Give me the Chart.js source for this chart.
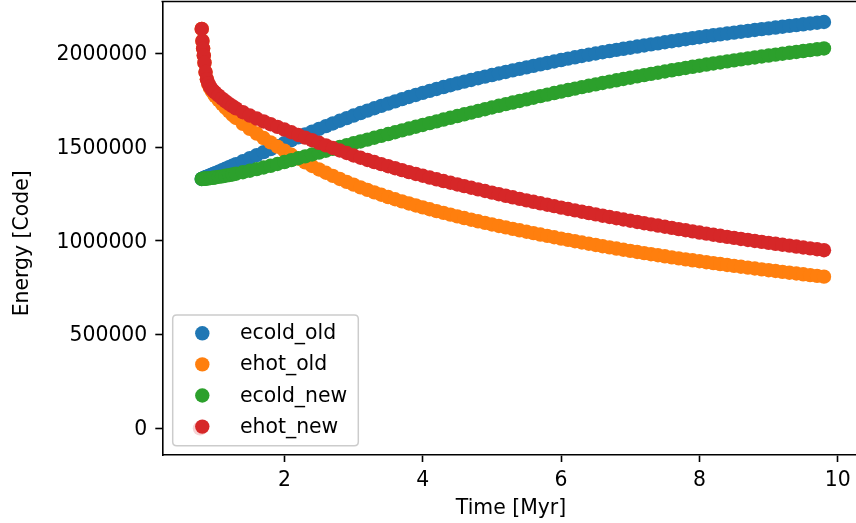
<!DOCTYPE html>
<html><head><meta charset="utf-8">
<script src="https://cdn.jsdelivr.net/npm/chart.js@4.4.0/dist/chart.umd.min.js"></script>
<style>html,body{margin:0;padding:0;background:#fff;overflow:hidden}canvas{display:block}</style>
</head><body>
<canvas id="c" width="856" height="523"></canvas>
<script>
// Time [Myr]
const time = [0.78, 0.805, 0.815, 0.825, 0.835, 0.845, 0.86, 0.88, 0.9, 0.925, 0.95, 0.975, 1.0, 1.05, 1.1, 1.15, 1.2, 1.25, 1.3, 1.4, 1.5,
  1.6, 1.7, 1.8, 1.9, 2.0,
  2.1, 2.2, 2.3, 2.4, 2.5, 2.6, 2.7, 2.8, 2.9, 3.0,
  3.1, 3.2, 3.3, 3.4, 3.5, 3.6, 3.7, 3.8, 3.9, 4.0,
  4.1, 4.2, 4.3, 4.4, 4.5, 4.6, 4.7, 4.8, 4.9, 5.0,
  5.1, 5.2, 5.3, 5.4, 5.5, 5.6, 5.7, 5.8, 5.9, 6.0,
  6.1, 6.2, 6.3, 6.4, 6.5, 6.6, 6.7, 6.8, 6.9, 7.0,
  7.1, 7.2, 7.3, 7.4, 7.5, 7.6, 7.7, 7.8, 7.9, 8.0,
  8.1, 8.2, 8.3, 8.4, 8.5, 8.6, 8.7, 8.8, 8.9, 9.0,
  9.1, 9.2, 9.3, 9.4, 9.5, 9.6, 9.7, 9.8];

const ecold_old = [null, 1330000, 1331600, 1333200, 1334800, 1336400, 1338800, 1342000, 1345200, 1349200, 1353200, 1357200, 1361000, 1369100, 1377200, 1385200, 1393200, 1401200, 1409200, 1425200, 1441200,
  1457200, 1473200, 1489100, 1505100, 1521000,
  1536600, 1552000, 1567200, 1582200, 1597000, 1611600, 1626000, 1640200, 1654200, 1668000,
  1681300, 1694300, 1707000, 1719500, 1731700, 1743700, 1755400, 1766800, 1778000, 1789000,
  1799600, 1809900, 1820000, 1829800, 1839400, 1848800, 1858000, 1866900, 1875600, 1884000,
  1892300, 1900500, 1908700, 1916800, 1924800, 1932800, 1940700, 1948500, 1956300, 1964000,
  1971500, 1978700, 1985600, 1992400, 1999000, 2005500, 2011900, 2018100, 2024100, 2030000,
  2035900, 2041700, 2047500, 2053200, 2058800, 2064400, 2069900, 2075300, 2080700, 2086000,
  2091100, 2096100, 2101000, 2105800, 2110500, 2115200, 2119800, 2124300, 2128700, 2133000,
  2137400, 2141800, 2146100, 2150300, 2154600, 2158800, 2162900, 2167000];

const ehot_old = [null, 2130000, 2066000, 2025000, 1988000, 1950000, 1900000, 1860000, 1835000, 1815000, 1800000, 1786000, 1772000, 1750000, 1729000, 1709000, 1690000, 1672000, 1655000, 1624000, 1597000,
  1572000, 1548000, 1525000, 1502500, 1480500,
  1459000, 1438200, 1418200, 1399000, 1380600, 1363000, 1346100, 1329900, 1314400, 1299500,
  1285200, 1271500, 1258300, 1245600, 1233400, 1221600, 1210200, 1199200, 1188600, 1178300,
  1168300, 1158500, 1148900, 1139500, 1130300, 1121300, 1112500, 1103900, 1095500, 1087300,
  1079300, 1071400, 1063600, 1055900, 1048300, 1040800, 1033400, 1026100, 1018900, 1011800,
  1004800, 997900, 991100, 984400, 977800, 971300, 964900, 958600, 952400, 946300,
  940300, 934400, 928600, 922900, 917300, 911800, 906400, 901100, 895900, 890800,
  885800, 880900, 876000, 871200, 866400, 861700, 857000, 852400, 847800, 843300,
  838800, 834400, 830000, 825700, 821400, 817200, 813000, 808900];

const ecold_new = [null, 1330000, 1330200, 1330400, 1330700, 1331000, 1331500, 1332300, 1333200, 1334400, 1335600, 1336800, 1338000, 1340800, 1343800, 1347000, 1350400, 1354000, 1357800, 1365600, 1373800,
  1382200, 1390800, 1399900, 1409800, 1420000,
  1430100, 1440200, 1450200, 1460200, 1470200, 1480200, 1490200, 1500200, 1510100, 1520000,
  1529900, 1539800, 1549700, 1559500, 1569300, 1579100, 1588900, 1598600, 1608300, 1618000,
  1627600, 1637100, 1646600, 1656000, 1665300, 1674600, 1683800, 1692900, 1702000, 1711000,
  1719900, 1728700, 1737400, 1746000, 1754500, 1763000, 1771400, 1779700, 1787900, 1796000,
  1803900, 1811700, 1819400, 1826900, 1834300, 1841700, 1849000, 1856100, 1863100, 1870000,
  1876800, 1883500, 1890100, 1896600, 1903000, 1909400, 1915700, 1921900, 1928000, 1934000,
  1939900, 1945700, 1951300, 1956800, 1962200, 1967600, 1972900, 1978000, 1983000, 1988000,
  1992900, 1997800, 2002600, 2007300, 2012000, 2016700, 2021400, 2026000];

const ehot_new = [0, 2130000, 2066000, 2025000, 1988000, 1950000, 1900000, 1862000, 1840000, 1822000, 1809000, 1799000, 1790000, 1774000, 1758500, 1744000, 1730500, 1718000, 1706500, 1686000, 1668000,
  1652000, 1636600, 1622000, 1607500, 1593300,
  1578900, 1564600, 1550500, 1536500, 1522600, 1508800, 1495100, 1481600, 1468200, 1455000,
  1443000, 1431300, 1419900, 1408800, 1397900, 1387200, 1376700, 1366500, 1356500, 1347000,
  1337400, 1328000, 1318700, 1309600, 1300600, 1291700, 1282900, 1274200, 1265600, 1257000,
  1248500, 1240100, 1231900, 1223800, 1215800, 1207900, 1200100, 1192400, 1184700, 1177000,
  1169500, 1162200, 1155000, 1147900, 1140900, 1133900, 1127000, 1120200, 1113500, 1107000,
  1100500, 1094000, 1087600, 1081300, 1075000, 1068700, 1062500, 1056300, 1050100, 1044000,
  1038100, 1032300, 1026600, 1021000, 1015500, 1010000, 1004600, 999300, 994100, 989000,
  984000, 979100, 974200, 969300, 964400, 959600, 954800, 950000];

const seriesNames = ['ecold_old', 'ehot_old', 'ecold_new', 'ehot_new'];
const seriesValues = [ecold_old, ehot_old, ecold_new, ehot_new];
const seriesColors = ['#1f77b4', '#ff7f0e', '#2ca02c', '#d62728'];
const xTicks = [2, 4, 6, 8, 10];
const yTicks = [0, 500000, 1000000, 1500000, 2000000];
const xLabel = 'Time [Myr]';
const yLabel = 'Energy [Code]';

const FONT = "'DejaVu Sans', sans-serif";
const FS = 20.4;

const datasets = seriesValues.map((vals, k) => ({
  label: seriesNames[k],
  data: time.map((t, i) => ({x: t, y: vals[i]})).filter(p => p.y !== null),
  backgroundColor: seriesColors[k],
  borderColor: seriesColors[k],
  pointRadius: 7.2,
  pointHoverRadius: 7.2,
  pointBorderWidth: 0,
  order: 4 - k
}));

function zeroPad(s) {
  s.paddingTop = 0; s.paddingBottom = 0; s.paddingLeft = 0; s.paddingRight = 0;
}

const decor = {
  id: 'decor',
  afterDatasetsDraw(chart) {
    const ctx = chart.ctx, a = chart.chartArea;
    ctx.save();
    // top spine
    ctx.strokeStyle = '#000'; ctx.lineWidth = 1.6;
    ctx.beginPath(); ctx.moveTo(a.left - 0.8, a.top); ctx.lineTo(a.right + 2, a.top); ctx.stroke();
    // legend
    const bx = 172.7, by = 315, bw = 185.6, bh = 130.7, r = 4;
    ctx.beginPath();
    ctx.moveTo(bx + r, by); ctx.lineTo(bx + bw - r, by); ctx.quadraticCurveTo(bx + bw, by, bx + bw, by + r);
    ctx.lineTo(bx + bw, by + bh - r); ctx.quadraticCurveTo(bx + bw, by + bh, bx + bw - r, by + bh);
    ctx.lineTo(bx + r, by + bh); ctx.quadraticCurveTo(bx, by + bh, bx, by + bh - r);
    ctx.lineTo(bx, by + r); ctx.quadraticCurveTo(bx, by, bx + r, by); ctx.closePath();
    ctx.fillStyle = 'rgba(255,255,255,0.8)'; ctx.fill();
    ctx.strokeStyle = '#cccccc'; ctx.lineWidth = 1.5; ctx.stroke();
    ctx.font = FS + 'px ' + FONT;
    ctx.textAlign = 'left'; ctx.textBaseline = 'alphabetic';
    seriesNames.forEach((n, i) => {
      const my = 333.3 + i * 31.1;
      ctx.fillStyle = seriesColors[i];
      ctx.beginPath(); ctx.arc(202.3, my, 7.2, 0, Math.PI * 2); ctx.fill();
      ctx.fillStyle = '#000';
      ctx.fillText(n, 240, my + 6);
    });
    // axis titles
    ctx.textAlign = 'center';
    ctx.fillText(xLabel, 511, 513.8);
    ctx.translate(28, 243.3); ctx.rotate(-Math.PI / 2);
    ctx.fillText(yLabel, 0, 0);
    ctx.restore();
  }
};

new Chart(document.getElementById('c'), {
  type: 'scatter',
  data: {datasets},
  options: {
    responsive: false, animation: false, devicePixelRatio: 1, events: [],
    layout: {autoPadding: false, padding: {top: 1.5, right: 0, left: 0, bottom: 0}},
    plugins: {legend: {display: false}, tooltip: {enabled: false}, title: {display: false}},
    scales: {
      x: {
        type: 'linear', min: 0.235, max: 10.263,
        afterBuildTicks: s => { s.ticks = xTicks.map(v => ({value: v})); },
        afterFit: s => { s.height = 68; zeroPad(s); },
        grid: {drawOnChartArea: false, drawTicks: true, tickLength: 7, tickColor: '#000', tickWidth: 1.6},
        border: {display: true, color: '#000', width: 1.6},
        ticks: {color: '#000', font: {family: FONT, size: FS}, padding: 6, maxRotation: 0, callback: v => String(v)}
      },
      y: {
        type: 'linear', min: -142400, max: 2276300,
        afterBuildTicks: s => { s.ticks = yTicks.map(v => ({value: v})); },
        afterFit: s => { s.width = 162.3; zeroPad(s); },
        grid: {drawOnChartArea: false, drawTicks: true, tickLength: 7, tickColor: '#000', tickWidth: 1.6},
        border: {display: true, color: '#000', width: 1.6},
        ticks: {color: '#000', font: {family: FONT, size: FS}, padding: 8, labelOffset: 1.5, callback: v => String(v)}
      }
    }
  },
  plugins: [decor]
});
</script>
</body></html>
